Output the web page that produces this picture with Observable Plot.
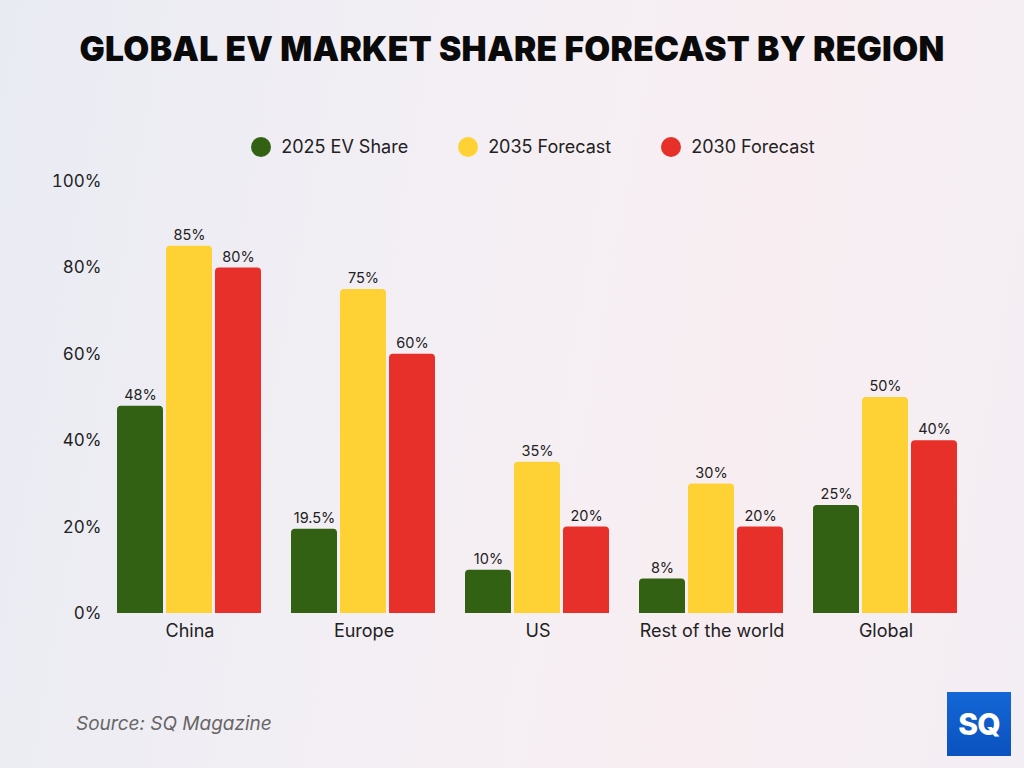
<!DOCTYPE html>
<html>
<head>
<meta charset="utf-8">
<script src="https://cdn.jsdelivr.net/npm/d3@7"></script>
<script src="https://cdn.jsdelivr.net/npm/@observablehq/plot@0.6"></script>
<style>
  html, body { margin: 0; padding: 0; }
  body {
    width: 1024px; height: 768px; overflow: hidden; position: relative;
    font-family: Inter, "Open Sans", sans-serif;
    background: linear-gradient(100deg, #e9ebf3 0%, #f3eff4 40%, #f8eef2 70%, #f3eef4 100%);
  }
  #title {
    position: absolute; top: 29px; left: 0; width: 1024px; text-align: center;
    font-family: Inter, sans-serif; font-weight: 900; font-size: 33.5px; color: #0a0a0a;
    letter-spacing: 0.3px;
  }
  #legend {
    position: absolute; top: 136px; left: 21px; width: 1024px; display: flex; justify-content: center;
    gap: 50px; font-size: 18px; color: #222;
  }
  .item { display: flex; align-items: center; gap: 10px; }
  .dot { width: 20px; height: 20px; border-radius: 50%; display: inline-block; }
  #chart { position: absolute; top: 160px; left: 0; }
  #source {
    position: absolute; left: 76px; top: 712px; font-style: italic; font-size: 19px; color: #666;
  }
  #logo {
    position: absolute; left: 947px; top: 692px; width: 64px; height: 64px;
    background: linear-gradient(180deg, #1466d6, #0a52bf);
    color: #fff; font-weight: 800; font-size: 30px; display: flex; align-items: center; justify-content: center;
    font-family: Inter, sans-serif; letter-spacing: -1px;
  }
</style>
</head>
<body>
<div id="title">GLOBAL EV MARKET SHARE FORECAST BY REGION</div>
<div id="legend"></div>
<div id="chart"></div>
<div id="source">Source: SQ Magazine</div>
<div id="logo">SQ</div>
<script>
const regions = ["China", "Europe", "US", "Rest of the world", "Global"];
const series = ["2025 EV Share", "2035 Forecast", "2030 Forecast"];
const share2025 = [48, 19.5, 10, 8, 25];
const forecast2035 = [85, 75, 35, 30, 50];
const forecast2030 = [80, 60, 20, 20, 40];
const colors = ["#336114", "#fed235", "#e8302a"];
const yTicks = [0, 20, 40, 60, 80, 100];

const values = [share2025, forecast2035, forecast2030];
const data = [];
regions.forEach((r, i) => {
  series.forEach((s, j) => data.push({region: r, series: s, value: values[j][i]}));
});

const legend = document.getElementById("legend");
series.forEach((s, j) => {
  const it = document.createElement("div");
  it.className = "item";
  it.innerHTML = `<span class="dot" style="background:${colors[j]}"></span><span>${s}</span>`;
  legend.appendChild(it);
});

const chart = Plot.plot({
  width: 1024,
  height: 500,
  marginLeft: 117,
  marginRight: 65,
  marginTop: 21,
  marginBottom: 47,
  style: {background: "transparent", fontFamily: "Inter, sans-serif", color: "#222"},
  fx: {domain: regions, paddingInner: 0.165, paddingOuter: 0, label: null, axis: null},
  x: {domain: series, paddingInner: 0.055, paddingOuter: 0, axis: null},
  y: {domain: [0, 100], label: null, axis: null},
  color: {domain: series, range: colors},
  marks: [
    Plot.axisY({ticks: yTicks, tickFormat: d => d + "%", label: null, tickSize: 0, tickPadding: 16, fontSize: 17, fill: "#222"}),
    Plot.axisFx({anchor: "bottom", label: null, tickSize: 0, tickPadding: 11, fontSize: 18, fill: "#222"}),
    Plot.barY(data, {fx: "region", x: "series", y: "value", fill: "series", rx: 4}),
    Plot.barY(data, {fx: "region", x: "series", y1: 0, y2: d => Math.min(d.value, 3), fill: "series"}),
    Plot.text(data, {fx: "region", x: "series", y: "value", text: d => d.value + "%", dy: -11, fontSize: 14.5, fill: "#222"})
  ]
});
document.getElementById("chart").appendChild(chart);
</script>
</body>
</html>
